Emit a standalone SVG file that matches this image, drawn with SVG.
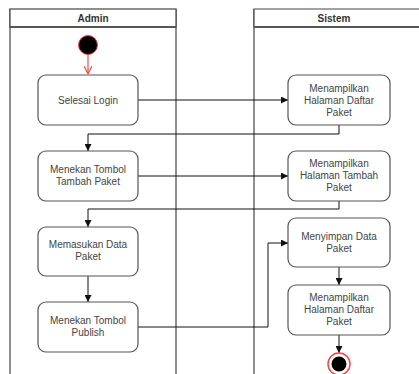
<svg xmlns="http://www.w3.org/2000/svg" width="419" height="374" viewBox="0 0 419 374">
  <style>
    .lane { fill: none; stroke: #444; stroke-width: 1.2; }
    .head { fill: #fff; stroke: #444; stroke-width: 1.2; }
    .head-line { stroke: #555; stroke-width: 2; }
    .title { font-family: "Liberation Sans", Arial, sans-serif; font-size: 10px; font-weight: bold; fill: #333; text-anchor: middle; }
    .act { fill: #fff; stroke: #555; stroke-width: 1.2; }
    .lbl { font-family: "Liberation Sans", Arial, sans-serif; font-size: 10px; fill: #444; text-anchor: middle; }
    .edge { fill: none; stroke: #111; stroke-width: 1; }
  </style>
  <defs>
    <marker id="arr" viewBox="0 0 10 10" refX="10" refY="5" markerWidth="7" markerHeight="7" orient="auto" markerUnits="userSpaceOnUse">
      <path d="M0,0 L10,5 L0,10 Z" fill="#111"/>
    </marker>
    <marker id="arrRed" viewBox="0 0 10 10" refX="10" refY="5" markerWidth="8" markerHeight="8" orient="auto" markerUnits="userSpaceOnUse">
      <path d="M0,0 L10,5 L0,10" fill="none" stroke="#ff4444" stroke-width="1.5"/>
    </marker>
  </defs>
  <rect width="419" height="374" fill="#fff"/>

  <!-- swimlanes -->
  <g id="lane-admin">
    <path class="lane" d="M10,9 V374 M176,9 V374"/>
    <rect class="head" x="10" y="9" width="166" height="18"/>
    <line class="head-line" x1="10" y1="27" x2="176" y2="27"/>
    <text class="title" x="93" y="22">Admin</text>
  </g>
  <g id="lane-sistem">
    <path class="lane" d="M254,9 V374"/>
    <path class="head" d="M425,9 H254 V27 H425"/>
    <line class="head-line" x1="254" y1="27" x2="425" y2="27"/>
    <text class="title" x="334" y="22">Sistem</text>
  </g>

  <!-- connectors -->
  <g id="connectors">
    <line x1="88" y1="54" x2="88" y2="74" stroke="#ff4444" stroke-width="1.2" marker-end="url(#arrRed)"/>
    <path class="edge" d="M138,100 H288" marker-end="url(#arr)"/>
    <path class="edge" d="M339,125 V134 H88 V151" marker-end="url(#arr)"/>
    <path class="edge" d="M138,176 H288" marker-end="url(#arr)"/>
    <path class="edge" d="M339,201 V209 H88 V227" marker-end="url(#arr)"/>
    <path class="edge" d="M88,276 V302" marker-end="url(#arr)"/>
    <path class="edge" d="M138,327 H268 V243 H288" marker-end="url(#arr)"/>
    <path class="edge" d="M339,267 V285" marker-end="url(#arr)"/>
    <path class="edge" d="M339,335 V353" marker-end="url(#arr)"/>
  </g>

  <!-- start / end -->
  <g id="start">
    <circle cx="88" cy="45" r="9.5" fill="#000" stroke="#ff4444" stroke-width="1"/>
  </g>
  <g id="end">
    <circle cx="339" cy="364" r="11" fill="#fff" stroke="#ff4444" stroke-width="1.5"/>
    <circle cx="339" cy="364" r="7.5" fill="#000"/>
  </g>

  <!-- activities -->
  <g id="selesai-login">
    <rect class="act" x="38" y="75" width="100" height="50" rx="8"/>
    <text class="lbl" x="88" y="104">Selesai Login</text>
  </g>
  <g id="tampil-daftar-1">
    <rect class="act" x="288" y="75" width="102" height="50" rx="8"/>
    <text class="lbl" x="339" y="92">Menampilkan</text>
    <text class="lbl" x="339" y="104">Halaman Daftar</text>
    <text class="lbl" x="339" y="116">Paket</text>
  </g>
  <g id="tombol-tambah">
    <rect class="act" x="38" y="151" width="100" height="50" rx="8"/>
    <text class="lbl" x="88" y="173">Menekan Tombol</text>
    <text class="lbl" x="88" y="185">Tambah Paket</text>
  </g>
  <g id="tampil-tambah">
    <rect class="act" x="288" y="151" width="102" height="50" rx="8"/>
    <text class="lbl" x="339" y="167">Menampilkan</text>
    <text class="lbl" x="339" y="179">Halaman Tambah</text>
    <text class="lbl" x="339" y="191">Paket</text>
  </g>
  <g id="masukan-data">
    <rect class="act" x="38" y="227" width="100" height="49" rx="8"/>
    <text class="lbl" x="88" y="248">Memasukan Data</text>
    <text class="lbl" x="88" y="260">Paket</text>
  </g>
  <g id="simpan-data">
    <rect class="act" x="288" y="218" width="102" height="49" rx="8"/>
    <text class="lbl" x="339" y="240">Menyimpan Data</text>
    <text class="lbl" x="339" y="252">Paket</text>
  </g>
  <g id="tombol-publish">
    <rect class="act" x="38" y="302" width="100" height="50" rx="8"/>
    <text class="lbl" x="88" y="324">Menekan Tombol</text>
    <text class="lbl" x="88" y="336">Publish</text>
  </g>
  <g id="tampil-daftar-2">
    <rect class="act" x="288" y="285" width="102" height="50" rx="8"/>
    <text class="lbl" x="339" y="301">Menampilkan</text>
    <text class="lbl" x="339" y="313">Halaman Daftar</text>
    <text class="lbl" x="339" y="325">Paket</text>
  </g>
</svg>
